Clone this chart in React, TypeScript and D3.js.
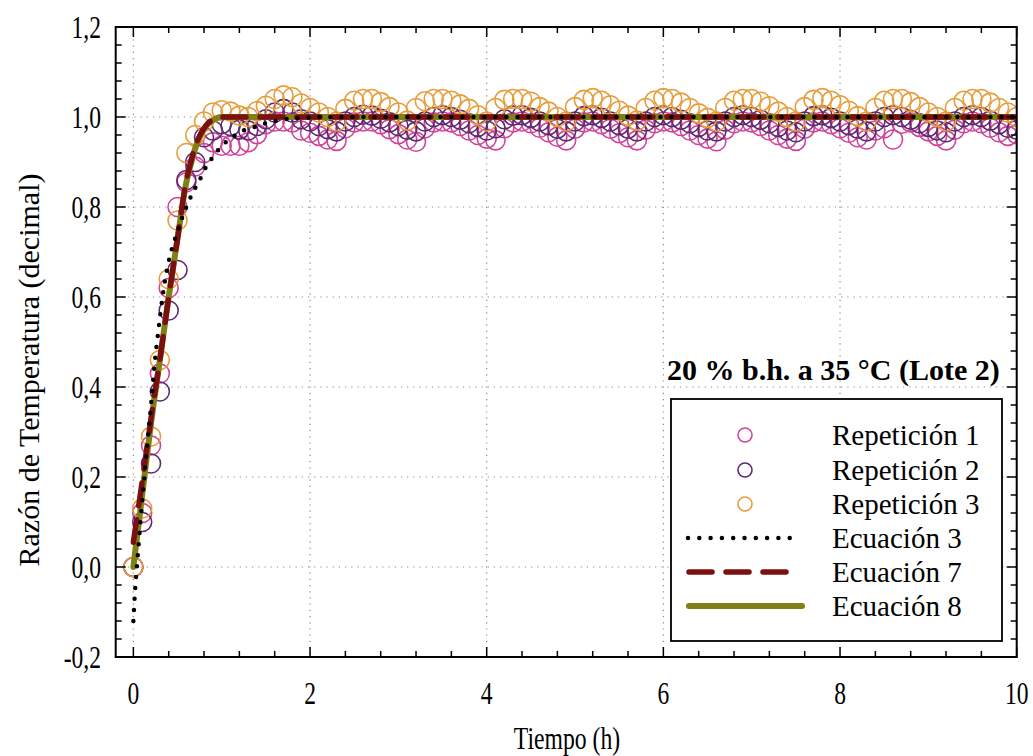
import React from "react";
import * as d3 from "d3";

// Sampling times (h)
const TIME_H = [
  0, 0.1, 0.2, 0.3, 0.4, 0.5, 0.6, 0.7, 0.8, 0.9,
  1.0, 1.1, 1.2, 1.3, 1.4, 1.5, 1.6, 1.7, 1.8, 1.9,
  2.0, 2.1, 2.2, 2.3, 2.4, 2.5, 2.6, 2.7, 2.8, 2.9,
  3.0, 3.1, 3.2, 3.3, 3.4, 3.5, 3.6, 3.7, 3.8, 3.9,
  4.0, 4.1, 4.2, 4.3, 4.4, 4.5, 4.6, 4.7, 4.8, 4.9,
  5.0, 5.1, 5.2, 5.3, 5.4, 5.5, 5.6, 5.7, 5.8, 5.9,
  6.0, 6.1, 6.2, 6.3, 6.4, 6.5, 6.6, 6.7, 6.8, 6.9,
  7.0, 7.1, 7.2, 7.3, 7.4, 7.5, 7.6, 7.7, 7.8, 7.9,
  8.0, 8.1, 8.2, 8.3, 8.4, 8.5, 8.6, 8.7, 8.8, 8.9,
  9.0, 9.1, 9.2, 9.3, 9.4, 9.5, 9.6, 9.7, 9.8, 9.9,
  10.0,
];

// Repetición 1 (pink)
const REP1 = [
  0.0, 0.12, 0.27, 0.43, 0.62, 0.80, 0.855, 0.89, 0.92, 0.944,
  0.936, 0.936, 0.936, 0.944, 0.962, 0.984, 0.99, 0.99, 0.988, 0.97,
  0.965, 0.958, 0.95, 0.947, 0.975, 0.988, 0.99, 0.99, 0.984, 0.973,
  0.962, 0.95, 0.945, 0.975, 0.988, 0.99, 0.988, 0.98, 0.97, 0.96,
  0.952, 0.948, 0.975, 0.988, 0.99, 0.986, 0.976, 0.966, 0.956, 0.948,
  0.974, 0.988, 0.99, 0.984, 0.974, 0.964, 0.955, 0.948, 0.972, 0.986,
  0.99, 0.988, 0.98, 0.97, 0.96, 0.952, 0.946, 0.972, 0.986, 0.99,
  0.988, 0.98, 0.97, 0.96, 0.952, 0.947, 0.974, 0.988, 0.99, 0.984,
  0.975, 0.965, 0.955, 0.95, 0.97, 0.975, 0.95, 0.985, 0.988, 0.978,
  0.968, 0.958, 0.948, 0.972, 0.986, 0.99, 0.986, 0.976, 0.966, 0.958,
  0.962,
];

// Repetición 2 (purple)
const REP2 = [
  0.0, 0.10, 0.23, 0.39, 0.57, 0.66, 0.86, 0.90, 0.955, 0.97,
  0.984, 0.98, 0.972, 0.97, 0.98, 0.995, 1.01, 1.018, 1.01, 0.995,
  0.99, 0.98, 0.973, 0.968, 0.99, 1.0, 1.005, 1.003, 0.996, 0.988,
  0.98, 0.972, 0.968, 0.99, 1.0, 1.004, 1.0, 0.994, 0.986, 0.978,
  0.97, 0.975, 0.995, 1.003, 1.004, 0.998, 0.99, 0.982, 0.974, 0.968,
  0.99, 1.002, 1.004, 0.998, 0.99, 0.982, 0.974, 0.968, 0.99, 1.0,
  1.004, 1.0, 0.994, 0.986, 0.978, 0.97, 0.968, 0.99, 1.0, 1.004,
  1.0, 0.994, 0.986, 0.978, 0.97, 0.966, 0.99, 1.002, 1.004, 0.998,
  0.99, 0.982, 0.974, 0.968, 0.99, 1.0, 1.004, 1.0, 0.994, 0.986,
  0.978, 0.97, 0.966, 0.99, 1.0, 1.004, 1.0, 0.992, 0.984, 0.976,
  0.972,
];

// Repetición 3 (orange)
const REP3 = [
  0.0, 0.13, 0.29, 0.46, 0.64, 0.77, 0.92, 0.96, 0.99, 1.01,
  1.015, 1.012, 1.003, 1.0, 1.013, 1.025, 1.04, 1.048, 1.044, 1.03,
  1.02, 1.01, 1.0, 0.99, 1.018, 1.036, 1.04, 1.04, 1.033, 1.022,
  1.01, 0.992, 1.02, 1.035, 1.04, 1.04, 1.036, 1.028, 1.018, 1.004,
  0.99, 1.02, 1.038, 1.04, 1.04, 1.034, 1.022, 1.012, 1.0, 0.99,
  1.022, 1.038, 1.042, 1.036, 1.026, 1.014, 1.003, 0.992, 1.02, 1.036,
  1.042, 1.04, 1.032, 1.02, 1.008, 0.998, 0.99, 1.02, 1.036, 1.04,
  1.04, 1.034, 1.024, 1.012, 1.0, 0.99, 1.022, 1.038, 1.042, 1.036,
  1.026, 1.014, 1.002, 0.99, 1.02, 1.036, 1.04, 1.04, 1.033, 1.022,
  1.01, 1.0, 0.99, 1.02, 1.036, 1.04, 1.04, 1.032, 1.02, 1.01,
  1.0,
];

// Model curves [t, value]
const EQ3: [number, number][] = [
  [0, -0.12], [0.02, -0.05], [0.04, 0.0], [0.08, 0.1], [0.12, 0.19],
  [0.16, 0.28], [0.2, 0.36], [0.24, 0.45], [0.28, 0.52], [0.33, 0.6],
  [0.38, 0.66], [0.44, 0.71], [0.5, 0.745], [0.55, 0.775], [0.6, 0.8],
  [0.68, 0.835], [0.75, 0.86], [0.82, 0.888], [0.9, 0.911], [1.0, 0.936],
  [1.13, 0.956], [1.25, 0.97], [1.38, 0.978], [1.5, 0.986], [1.63, 0.992],
  [1.76, 0.996], [1.9, 0.998], [2.2, 1.0], [3, 1.0], [10, 1.0],
];
const EQ7: [number, number][] = [
  [0, 0.055], [0.1, 0.19], [0.2, 0.33], [0.3, 0.46], [0.4, 0.6],
  [0.5, 0.73], [0.6, 0.86], [0.65, 0.9], [0.7, 0.935], [0.75, 0.958],
  [0.8, 0.975], [0.85, 0.987], [0.9, 0.994], [0.95, 0.998], [1.05, 1.0],
  [10, 1.0],
];
const EQ8: [number, number][] = [
  [0, 0.0], [0.1, 0.16], [0.2, 0.32], [0.3, 0.46], [0.4, 0.6],
  [0.5, 0.73], [0.6, 0.855], [0.65, 0.895], [0.7, 0.93], [0.75, 0.955],
  [0.8, 0.973], [0.85, 0.986], [0.9, 0.993], [0.95, 0.998], [1.05, 1.0],
  [10, 1.0],
];

const X_TICKS = [0, 2, 4, 6, 8, 10];
const Y_TICKS = [-0.2, 0, 0.2, 0.4, 0.6, 0.8, 1.0, 1.2];
const LEGEND_TITLE = "20 % b.h. a 35 °C (Lote 2)";
const LEGEND_LABELS = [
  "Repetición 1",
  "Repetición 2",
  "Repetición 3",
  "Ecuación 3",
  "Ecuación 7",
  "Ecuación 8",
];

const C_PINK = "#d0459a";
const C_PURPLE = "#5b2a70";
const C_ORANGE = "#e89c3a";
const C_RED = "#7c0f10";
const C_OLIVE = "#808014";

const FONT = "'Liberation Serif', 'Times New Roman', serif";

export default function App() {
  const W = 1033;
  const H = 756;
  const L = 115.7, R = 1016.7, T = 27, B = 657;
  const x = d3.scaleLinear().domain([-0.2, 10]).range([L, R]);
  const y = d3.scaleLinear().domain([-0.2, 1.2]).range([B, T]);
  const line = d3
    .line<[number, number]>()
    .x((d) => x(d[0]))
    .y((d) => y(d[1]))
    .curve(d3.curveMonotoneX);

  const xMinor = d3.range(0, 10.0001, 0.4).filter((v) => Math.abs(v / 2 - Math.round(v / 2)) > 1e-6);
  const yMinor = d3.range(-0.2, 1.2001, 0.04).filter((v) => Math.abs((v + 0.2) / 0.2 - Math.round((v + 0.2) / 0.2)) > 1e-6);

  const fmtY = (v: number) => d3.format(".1f")(v).replace(".", ",").replace("−", "-");

  const series = [
    { vals: REP1, color: C_PINK },
    { vals: REP2, color: C_PURPLE },
    { vals: REP3, color: C_ORANGE },
  ];

  const legX = 671, legY = 399, legW = 331, legH = 242;
  const rowY = [435, 470, 504, 538, 572, 606];
  const symX = 745;
  const textX = 832;

  return (
    <svg
      width={W}
      height={H}
      viewBox={`0 0 ${W} ${H}`}
      style={{ position: "absolute", left: 0, top: 0, background: "#fff" }}
      fontFamily={FONT}
    >
      <rect x={0} y={0} width={W} height={H} fill="#fff" />
      <defs>
        <clipPath id="plotClip">
          <rect x={L} y={T} width={R - L} height={B - T} />
        </clipPath>
      </defs>

      {/* grid */}
      <g stroke="#8a8a8a" strokeWidth={1.2} strokeDasharray="1.2 5" fill="none">
        {X_TICKS.map((v) => (
          <line key={"gx" + v} x1={x(v)} x2={x(v)} y1={T} y2={B} />
        ))}
        {Y_TICKS.map((v) => (
          <line key={"gy" + v} x1={L} x2={R} y1={y(v)} y2={y(v)} />
        ))}
      </g>

      {/* data */}
      <g clipPath="url(#plotClip)">
        {series.map((s, si) => (
          <g key={"s" + si} fill="none" stroke={s.color} strokeWidth={1.6}>
            {s.vals.map((v, i) => (
              <circle key={i} cx={x(TIME_H[i])} cy={y(v)} r={9.5} />
            ))}
          </g>
        ))}
        <path d={line(EQ8) || ""} fill="none" stroke={C_OLIVE} strokeWidth={6} strokeLinecap="round" />
        <path
          d={line(EQ7) || ""}
          fill="none"
          stroke={C_RED}
          strokeWidth={5.5}
          strokeDasharray="23 14"
          strokeLinecap="round"
        />
        <path
          d={line(EQ3) || ""}
          fill="none"
          stroke="#000"
          strokeWidth={4.5}
          strokeDasharray="0 11"
          strokeLinecap="round"
        />
      </g>

      {/* frame */}
      <rect x={L} y={T} width={R - L} height={B - T} fill="none" stroke="#000" strokeWidth={2} />

      {/* ticks */}
      <g stroke="#000" strokeWidth={1.5}>
        {X_TICKS.map((v) => (
          <g key={"tx" + v}>
            <line x1={x(v)} x2={x(v)} y1={B} y2={B - 10} />
            <line x1={x(v)} x2={x(v)} y1={T} y2={T + 10} />
          </g>
        ))}
        {xMinor.map((v) => (
          <g key={"mx" + v}>
            <line x1={x(v)} x2={x(v)} y1={B} y2={B - 6} />
            <line x1={x(v)} x2={x(v)} y1={T} y2={T + 6} />
          </g>
        ))}
        {Y_TICKS.map((v) => (
          <g key={"ty" + v}>
            <line x1={L} x2={L + 10} y1={y(v)} y2={y(v)} />
            <line x1={R} x2={R - 10} y1={y(v)} y2={y(v)} />
          </g>
        ))}
        {yMinor.map((v) => (
          <g key={"my" + v}>
            <line x1={L} x2={L + 6} y1={y(v)} y2={y(v)} />
            <line x1={R} x2={R - 6} y1={y(v)} y2={y(v)} />
          </g>
        ))}
      </g>

      {/* tick labels */}
      <g fontSize={31} fill="#000">
        {X_TICKS.map((v) => (
          <text key={"lx" + v} transform={`translate(${x(v)},704) scale(0.76,1)`} textAnchor="middle">
            {String(v)}
          </text>
        ))}
        {Y_TICKS.map((v) => (
          <text key={"ly" + v} transform={`translate(101,${y(v) + 10.5}) scale(0.76,1)`} textAnchor="end">
            {fmtY(v)}
          </text>
        ))}
      </g>

      {/* axis titles */}
      <text transform="translate(567,749) scale(0.74,1)" textAnchor="middle" fontSize={32}>
        Tiempo (h)
      </text>
      <text transform="translate(39,370) rotate(-90)" textAnchor="middle" fontSize={30}>
        Razón de Temperatura (decimal)
      </text>

      {/* legend */}
      <text x={667} y={380} fontSize={30} fontWeight="bold">
        {LEGEND_TITLE}
      </text>
      <rect x={legX} y={legY} width={legW} height={legH} fill="#fff" stroke="#000" strokeWidth={1.8} />
      <circle cx={symX} cy={rowY[0]} r={7} fill="none" stroke={C_PINK} strokeWidth={1.6} />
      <circle cx={symX} cy={rowY[1]} r={7} fill="none" stroke={C_PURPLE} strokeWidth={1.6} />
      <circle cx={symX} cy={rowY[2]} r={7} fill="none" stroke={C_ORANGE} strokeWidth={1.6} />
      <line x1={688} x2={801} y1={rowY[3]} y2={rowY[3]} stroke="#000" strokeWidth={4.5} strokeDasharray="0 11.3" strokeLinecap="round" />
      <line x1={689} x2={788} y1={rowY[4]} y2={rowY[4]} stroke={C_RED} strokeWidth={5.5} strokeDasharray="23 14" strokeLinecap="round" />
      <line x1={689} x2={802} y1={rowY[5]} y2={rowY[5]} stroke={C_OLIVE} strokeWidth={6} strokeLinecap="round" />
      <g fontSize={29}>
        {LEGEND_LABELS.map((lab, i) => (
          <text key={lab} x={textX} y={rowY[i] + 9.5}>
            {lab}
          </text>
        ))}
      </g>
    </svg>
  );
}
